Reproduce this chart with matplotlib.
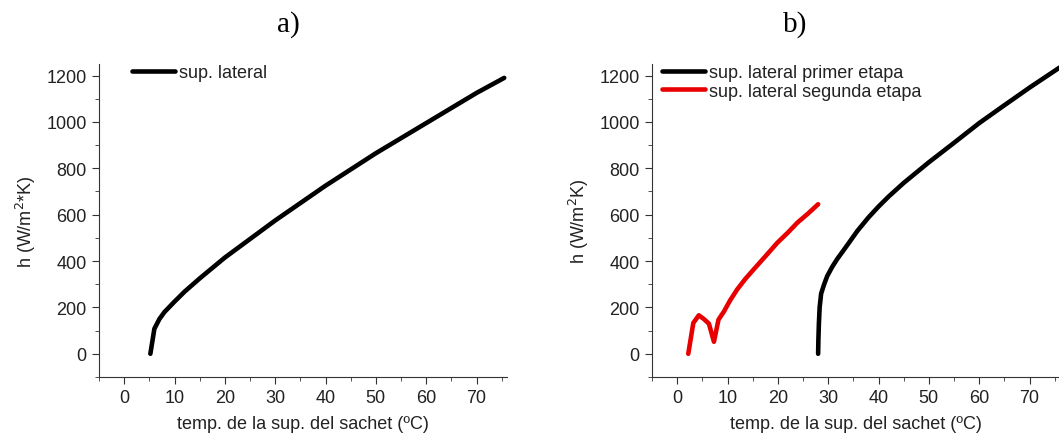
import matplotlib
matplotlib.use("Agg")
import matplotlib.pyplot as plt
from matplotlib.ticker import MultipleLocator

# a) sup. lateral
t_a = [5.2, 6.0, 7.0, 8.0, 10, 12, 15, 20, 25, 30, 35, 40, 45, 50, 55, 60, 65, 70, 75.5]
h_a = [0, 108, 150, 180, 225, 268, 325, 415, 495, 575, 650, 725, 795, 865, 930, 995, 1060, 1125, 1190]

# b) primer etapa
t_b1 = [28.0, 28.05, 28.15, 28.3, 28.6, 29.2, 29.8, 30.8, 31.8, 33.5, 35.8, 38, 40, 42, 45, 50, 55, 60, 65, 70, 76]
h_b1 = [0, 60, 130, 200, 260, 300, 335, 375, 409, 460, 530, 588, 635, 678, 737, 826, 910, 995, 1072, 1148, 1235]

# b) segunda etapa
t_b2 = [2.2, 3.2, 4.3, 5.3, 6.3, 7.3, 8.2, 9.3, 10.5, 11.9, 13.5, 15.2, 17.5, 19.9, 22, 23.9, 26, 28.0]
h_b2 = [0, 133, 166, 150, 130, 52, 147, 183, 230, 277, 322, 364, 420, 479, 523, 566, 605, 645]

TXT = '#222222'
plt.rcParams['font.family'] = ['Liberation Sans', 'DejaVu Sans']
plt.rcParams['axes.edgecolor'] = '#333333'

fig = plt.figure(figsize=(10.59, 4.39), dpi=100)
ax1 = fig.add_axes([0.0935, 0.139, 0.385, 0.713])
ax2 = fig.add_axes([0.6157, 0.139, 0.385, 0.713])

ax1.plot(t_a, h_a, color='black', lw=3.3, solid_capstyle='round', label='sup. lateral')
ax2.plot(t_b1, h_b1, color='black', lw=3.3, solid_capstyle='round', label='sup. lateral primer etapa')
ax2.plot(t_b2, h_b2, color='#e80000', lw=3.3, solid_capstyle='round', label='sup. lateral segunda etapa')

for ax, ylab, lx in [(ax1, 'h (W/m$^2$*K)', 0.08), (ax2, 'h (W/m$^2$K)', 0.024)]:
    ax.set_xlim(-5, 76)
    ax.set_ylim(-100, 1250)
    ax.xaxis.set_major_locator(MultipleLocator(10))
    ax.xaxis.set_minor_locator(MultipleLocator(5))
    ax.yaxis.set_major_locator(MultipleLocator(200))
    ax.yaxis.set_minor_locator(MultipleLocator(100))
    ax.spines['top'].set_visible(False)
    ax.spines['right'].set_visible(False)
    ax.tick_params(which='major', direction='out', length=5, labelsize=13,
                   labelcolor=TXT, color='#333333', pad=4)
    ax.tick_params(which='minor', direction='out', length=3, color='#333333')
    ax.set_xlabel('temp. de la sup. del sachet (ºC)', fontsize=13, color=TXT, labelpad=6)
    ax.set_ylabel(ylab, fontsize=13, color=TXT, labelpad=6)
    leg = ax.legend(loc='upper left', bbox_to_anchor=(lx, 1.0), frameon=False, fontsize=13,
                    handlelength=2.4, handletextpad=0.2, borderaxespad=0, borderpad=0,
                    labelspacing=0.1)
    for t in leg.get_texts():
        t.set_color(TXT)

fig.text(0.272, 0.943, 'a)', fontsize=21, family=['Liberation Serif'], ha='center', va='center')
fig.text(0.751, 0.943, 'b)', fontsize=21, family=['Liberation Serif'], ha='center', va='center')

fig.savefig('out.png', dpi=100)
